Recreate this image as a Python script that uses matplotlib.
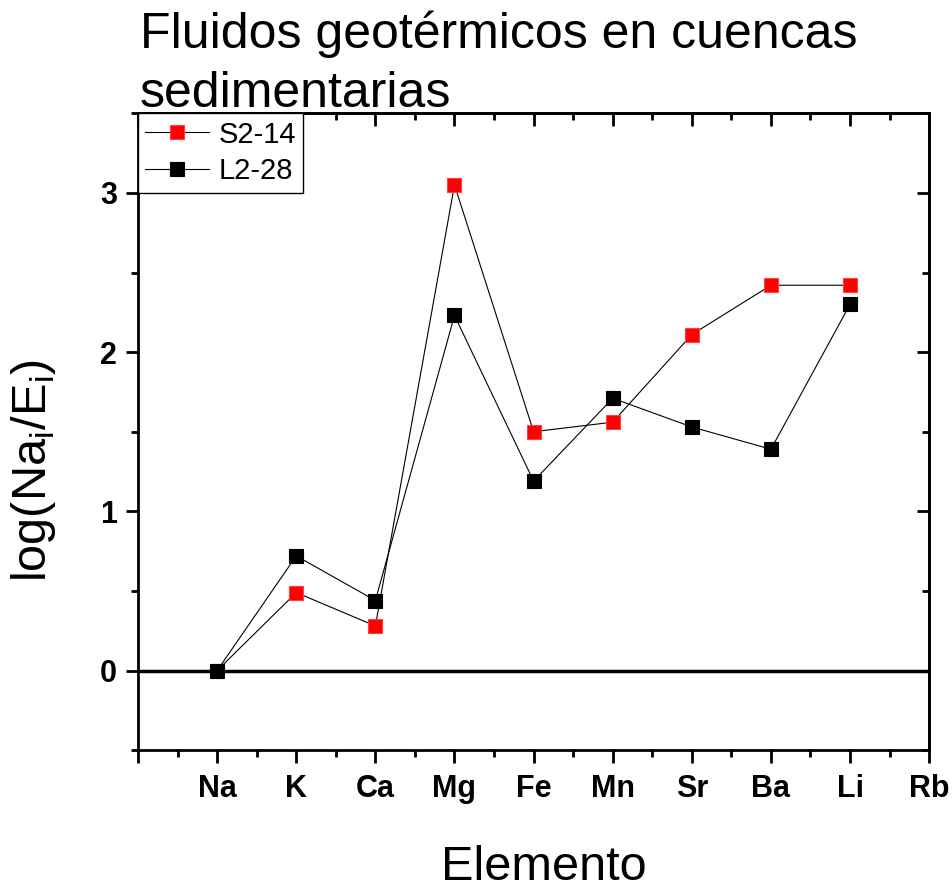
import matplotlib
matplotlib.use("Agg")
import matplotlib.pyplot as plt
from matplotlib.ticker import MultipleLocator, FixedLocator

plt.rcParams['font.family'] = ['Liberation Sans', 'DejaVu Sans']

elements = ["Na", "K", "Ca", "Mg", "Fe", "Mn", "Sr", "Ba", "Li"]
all_ticks = ["", "Na", "K", "Ca", "Mg", "Fe", "Mn", "Sr", "Ba", "Li", "Rb"]
s2_14 = [0.0, 0.49, 0.28, 3.05, 1.50, 1.56, 2.11, 2.42, 2.42]
l2_28 = [0.0, 0.72, 0.44, 2.23, 1.19, 1.71, 1.53, 1.39, 2.30]

W, H = 952, 892
fig = plt.figure(figsize=(W / 100, H / 100), dpi=100)
ax = fig.add_axes([0.145, 0.159, 0.831, 0.714])

x = list(range(1, len(elements) + 1))
ax.axhline(0, color="black", lw=2.5, zorder=1)
ax.plot(x, s2_14, color="black", lw=0.8, marker="s", markersize=10,
        markerfacecolor="red", markeredgecolor="#ff4040", markeredgewidth=0.8,
        label="S2-14", zorder=3)
ax.plot(x, l2_28, color="black", lw=0.8, marker="s", markersize=10,
        markerfacecolor="black", markeredgecolor="black", markeredgewidth=0.8,
        label="L2-28", zorder=4)

ax.set_xlim(0, 10)
ax.set_ylim(-0.5, 3.5)
ax.xaxis.set_major_locator(FixedLocator(range(0, 11)))
ax.set_xticklabels(all_ticks)
ax.xaxis.set_minor_locator(MultipleLocator(0.5))
ax.yaxis.set_major_locator(FixedLocator([0, 1, 2, 3]))
ax.yaxis.set_minor_locator(MultipleLocator(0.5))

for s in ax.spines.values():
    s.set_linewidth(2.0)

ax.tick_params(axis="x", which="major", direction="out", length=9, width=2,
               labelsize=22, pad=8, top=False)
ax.tick_params(axis="x", which="minor", direction="out", length=5, width=2, top=False)
ax.tick_params(axis="y", which="major", direction="out", length=9, width=2,
               labelsize=22, pad=6, right=False)
ax.tick_params(axis="y", which="minor", direction="out", length=5, width=2, right=False)
for lab in ax.get_xticklabels() + ax.get_yticklabels():
    lab.set_fontweight("bold")

# top and right ticks pointing inward
sec_x = ax.secondary_xaxis("top")
sec_x.xaxis.set_major_locator(FixedLocator(range(0, 11)))
sec_x.xaxis.set_minor_locator(MultipleLocator(0.5))
sec_x.tick_params(which="major", direction="in", length=9, width=2, labeltop=False)
sec_x.tick_params(which="minor", direction="in", length=5, width=2)
sec_x.spines["top"].set_linewidth(2.0)
sec_y = ax.secondary_yaxis("right")
sec_y.yaxis.set_major_locator(FixedLocator([0, 1, 2, 3]))
sec_y.yaxis.set_minor_locator(MultipleLocator(0.5))
sec_y.tick_params(which="major", direction="in", length=9, width=2, labelright=False)
sec_y.tick_params(which="minor", direction="in", length=5, width=2)
sec_y.spines["right"].set_linewidth(2.0)

ax.set_xlabel("Elemento", fontsize=35)
ax.xaxis.label.set_va("baseline")
ax.xaxis.set_label_coords(544 / W, 1 - 880 / H, transform=fig.transFigure)

ax.set_ylabel(r"log(Na$_\mathregular{i}$/E$_\mathregular{i}$)", fontsize=35)
ax.yaxis.set_label_coords(58 / W, 1 - 470 / H, transform=fig.transFigure)

fig.text(140 / W, 1 - 48 / H, "Fluidos geotérmicos en cuencas", fontsize=36,
         ha="left", va="baseline")
fig.text(140 / W, 1 - 107 / H, "sedimentarias", fontsize=36,
         ha="left", va="baseline")

leg = ax.legend(loc="upper left", bbox_to_anchor=(0.0, 1.0), fontsize=21,
                frameon=True, fancybox=False, edgecolor="black", borderaxespad=0,
                handlelength=2.2, handletextpad=0.3, borderpad=0.25, labelspacing=0.3,
                framealpha=1.0)
leg.get_frame().set_linewidth(1.0)
leg.set_zorder(20)

fig.savefig("out.png", dpi=100)
